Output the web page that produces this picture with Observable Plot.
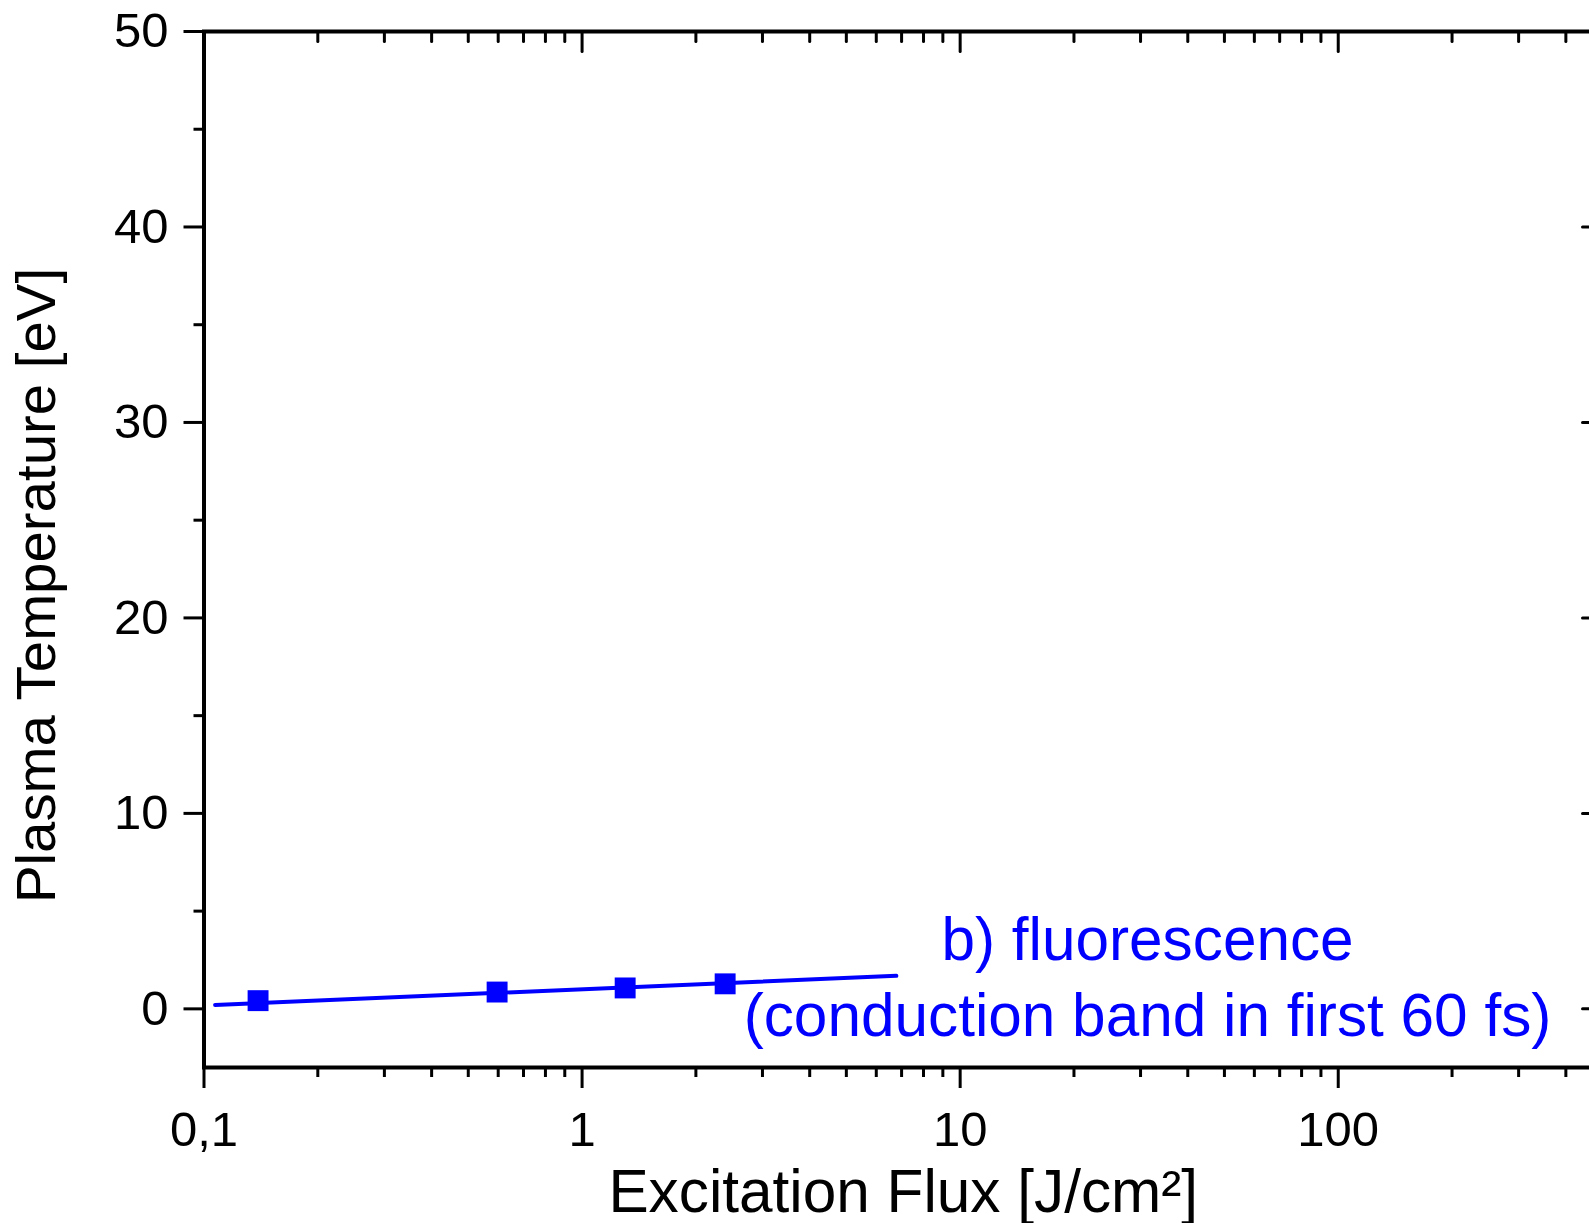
<!DOCTYPE html>
<html>
<head>
<meta charset="utf-8">
<script src="https://cdn.jsdelivr.net/npm/d3@7"></script>
<script src="https://cdn.jsdelivr.net/npm/@observablehq/plot@0.6"></script>
<style>
  html, body { margin: 0; padding: 0; background: #fff; overflow: hidden; }
  #chart svg { display: block; overflow: hidden; }
</style>
</head>
<body>
<div id="chart"></div>
<script>
// ---- data ----
const fluxValues = [0.139, 0.596, 1.30, 2.39];          // J/cm²
const tempValues = [0.42, 0.86, 1.07, 1.28];            // eV
const fitFlux = [0.107, 6.78];                           // fit line ends
const fitTemp = [0.20, 1.69];
const xMajorTicks = [0.1, 1, 10, 100];
const xTickLabels = ["0,1", "1", "10", "100"];
const xMinorTicks = [0.2, 0.3, 0.4, 0.5, 0.6, 0.7, 0.8, 0.9,
                     2, 3, 4, 5, 6, 7, 8, 9,
                     20, 30, 40, 50, 60, 70, 80, 90,
                     200, 300, 400, 500];
const yMajorTicks = [0, 10, 20, 30, 40, 50];
const yMinorTicks = [5, 15, 25, 35, 45];
const annotationLines = ["b) fluorescence", "(conduction band in first 60 fs)"];
const xTitle = "Excitation Flux [J/cm²]";
const yTitle = "Plasma Temperature [eV]";

const points = fluxValues.map((x, i) => ({x, y: tempValues[i]}));
const fit = fitFlux.map((x, i) => ({x, y: fitTemp[i]}));

const BLUE = "#0000ff";
const tickShape = {draw(context, l) { context.moveTo(0, 0); context.lineTo(0, -l); }};
const inTick = (data, opts) => Plot.vector(data, {
  anchor: "start", shape: tickShape, stroke: "black", strokeWidth: 3, ...opts
});

const chart = Plot.plot({
  width: 1589,
  height: 1223,
  marginLeft: 203.5,
  marginTop: 31,
  marginBottom: 156,
  marginRight: -13,
  x: {type: "log", domain: [0.1, 500]},
  y: {domain: [-3, 50]},
  style: {
    fontFamily: "'Liberation Sans', Arial, sans-serif",
    fontSize: "49px",
    color: "black",
    background: "white",
    overflow: "hidden"
  },
  marks: [
    // fit line and points
    Plot.line(fit, {x: "x", y: "y", stroke: BLUE, strokeWidth: 4}),
    Plot.dot(points, {x: "x", y: "y", symbol: "square", r: 11.8, fill: BLUE, stroke: "none"}),

    // bottom axis (outward ticks)
    Plot.axisX({anchor: "bottom", ticks: xMajorTicks, tickSize: 21, tickPadding: 23,
      tickFormat: d => xTickLabels[xMajorTicks.indexOf(d)], strokeWidth: 3, label: null}),
    Plot.axisX({anchor: "bottom", ticks: xMinorTicks, tickSize: 10,
      tickFormat: () => "", strokeWidth: 3, label: null}),
    // left axis (outward ticks)
    Plot.axisY({anchor: "left", ticks: yMajorTicks, tickSize: 20, tickPadding: 15.5,
      tickFormat: d => String(d), strokeWidth: 3, label: null}),
    Plot.axisY({anchor: "left", ticks: yMinorTicks, tickSize: 10,
      tickFormat: () => "", strokeWidth: 3, label: null}),
    // top axis (inward ticks)
    inTick(xMajorTicks, {x: d => d, frameAnchor: "top", length: 20, rotate: 180}),
    inTick(xMinorTicks, {x: d => d, frameAnchor: "top", length: 10, rotate: 180}),
    // right axis (inward ticks)
    inTick(yMajorTicks, {y: d => d, frameAnchor: "right", length: 20, rotate: 270}),
    inTick(yMinorTicks, {y: d => d, frameAnchor: "right", length: 10, rotate: 270}),

    Plot.frame({stroke: "black", strokeWidth: 4}),

    // annotation
    Plot.text([annotationLines.join("\n")], {
      x: 31.3, y: -1.37, text: d => d, fill: BLUE, fontSize: 60.3,
      lineHeight: 1.25, lineAnchor: "bottom", textAnchor: "middle"
    }),
    // axis titles
    Plot.text([yTitle], {text: d => d, frameAnchor: "left", dx: -149, dy: 36, rotate: -90,
      fontSize: 56.4, textAnchor: "middle", lineAnchor: "bottom", fill: "black"}),
    Plot.text([xTitle], {text: d => d, frameAnchor: "bottom", dy: 144,
      fontSize: 60.3, textAnchor: "middle", lineAnchor: "bottom", fill: "black"})
  ]
});
document.getElementById("chart").appendChild(chart);
</script>
</body>
</html>
